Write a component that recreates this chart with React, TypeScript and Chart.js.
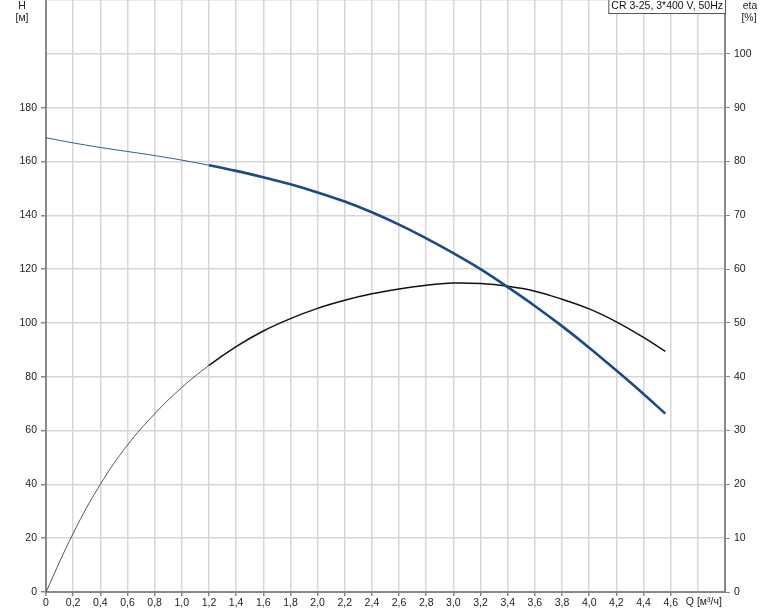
import React, { useEffect, useRef } from "react";
import { Chart, registerables } from "chart.js";

Chart.register(...registerables);

const qValues = [0, 0.2, 0.4, 0.6, 0.8, 1.0, 1.2, 1.4, 1.6, 1.8, 2.0, 2.2, 2.4, 2.6, 2.8, 3.0, 3.2, 3.4, 3.6, 3.8, 4.0, 4.2, 4.4, 4.56];
const headValues = [168.8, 166.9, 165.2, 163.7, 162.2, 160.5, 158.6, 156.5, 154.1, 151.5, 148.5, 145.1, 141.1, 136.5, 131.4, 125.9, 120.0, 113.3, 106.3, 98.8, 90.8, 82.3, 73.6, 66.3];
const etaValues = [0, 10.9, 20.0, 27.3, 33.1, 38.0, 42.1, 45.6, 48.5, 50.8, 52.7, 54.2, 55.4, 56.3, 57.0, 57.4, 57.3, 56.8, 55.9, 54.4, 52.6, 50.2, 47.3, 44.7];
const legendText = "CR 3-25, 3*400 V, 50Hz";
const xTitle = "Q [м³/ч]";
const leftTitle = ["H", "[м]"];
const rightTitle = ["eta", "[%]"];

const FONT = "Liberation Sans, Arial, sans-serif";
const FS = 10.5;

export default function App() {
  const ref = useRef<HTMLCanvasElement>(null);
  useEffect(() => {
    if (!ref.current) return;
    const overlay = {
      id: "overlay",
      afterDraw(chart: any) {
        const c = chart.ctx;
        c.save();
        c.font = `${FS}px ${FONT}`;
        c.fillStyle = "#222";
        c.textAlign = "center";
        c.textBaseline = "top";
        c.fillText(leftTitle[0], 22, 1);
        c.fillText(leftTitle[1], 22, 13);
        c.fillText(rightTitle[0], 750, 1);
        c.fillText(rightTitle[1], 749, 13);
        const xs = chart.scales.x;
        c.textAlign = "left";
        c.fillText(xTitle, xs.getPixelForValue(4.8) - 12, chart.chartArea.bottom + 5);
        const w = c.measureText(legendText).width + 6;
        const right = chart.chartArea.right + 1;
        c.fillStyle = "#fff";
        c.fillRect(right - w, 0, w, 14);
        c.strokeStyle = "#555";
        c.lineWidth = 1;
        c.strokeRect(right - w + 0.5, -0.5, w - 1, 14);
        c.fillStyle = "#111";
        c.fillText(legendText, right - w + 3, 1);
        c.restore();
      },
    };
    const zeroPad = (s: any) => {
      s.paddingTop = 0;
      s.paddingBottom = 0;
      s.paddingLeft = 0;
      s.paddingRight = 0;
    };
    const chart = new Chart(ref.current, {
      type: "line",
      data: {
        datasets: [
          {
            data: qValues.map((q, i) => ({ x: q, y: headValues[i] })),
            borderColor: "#1a4a8a",
            borderWidth: 2.6,
            pointRadius: 0,
            tension: 0.4,
            yAxisID: "y",
            segment: { borderWidth: (ctx: any) => (ctx.p0.parsed.x >= 1.19 ? 2.6 : 0.9) },
          } as any,
          {
            data: qValues.map((q, i) => ({ x: q, y: etaValues[i] })),
            borderColor: "#111",
            borderWidth: 1.4,
            pointRadius: 0,
            tension: 0.4,
            yAxisID: "y2",
            segment: { borderWidth: (ctx: any) => (ctx.p0.parsed.x >= 1.19 ? 1.5 : 0.7) },
          } as any,
        ],
      },
      options: {
        animation: false,
        responsive: false,
        maintainAspectRatio: false,
        layout: { padding: 0 },
        plugins: { legend: { display: false }, tooltip: { enabled: false } },
        scales: {
          x: {
            type: "linear",
            min: 0,
            max: 5,
            afterFit: (s: any) => { s.height = 19; zeroPad(s); },
            afterBuildTicks: (s: any) => {
              const t = [];
              for (let i = 0; i <= 25; i++) t.push({ value: Math.round(i * 2) / 10 });
              s.ticks = t;
            },
            ticks: {
              autoSkip: false,
              maxRotation: 0,
              padding: 1,
              color: "#222",
              font: { family: FONT, size: FS },
              callback: (v: any) => {
                const n = Math.round(Number(v) * 10) / 10;
                if (n >= 4.7) return "";
                if (n === 0) return "0";
                return n.toFixed(1).replace(".", ",");
              },
            },
            grid: {
              color: "#d6d6d6",
              lineWidth: 1.5,
              tickLength: 4,
              tickColor: (ctx: any) => (ctx.tick && ctx.tick.value > 4.7 ? "rgba(0,0,0,0)" : "#888"),
            },
            border: { color: "#888", width: 2 },
          },
          y: {
            position: "left",
            min: 0,
            max: 220,
            afterFit: (s: any) => { s.width = 46; zeroPad(s); },
            ticks: {
              stepSize: 20,
              padding: 4,
              color: "#222",
              font: { family: FONT, size: FS },
              callback: (v: any) => (Number(v) > 180 ? "" : String(v)),
            },
            grid: {
              color: "#d6d6d6",
              lineWidth: 1.5,
              tickLength: 5,
              tickColor: (ctx: any) => (ctx.tick && ctx.tick.value > 180 ? "rgba(0,0,0,0)" : "#888"),
            },
            border: { color: "#888", width: 2 },
          },
          y2: {
            position: "right",
            min: 0,
            max: 110,
            afterFit: (s: any) => { s.width = 49; zeroPad(s); },
            ticks: {
              stepSize: 10,
              padding: 4,
              color: "#222",
              font: { family: FONT, size: FS },
              callback: (v: any) => (Number(v) > 100 ? "" : String(v)),
            },
            grid: {
              display: true,
              drawOnChartArea: false,
              tickLength: 5,
              tickColor: (ctx: any) => (ctx.tick && ctx.tick.value > 100 ? "rgba(0,0,0,0)" : "#888"),
            },
            border: { color: "#888", width: 2 },
          },
        },
      } as any,
      plugins: [overlay],
    });
    return () => chart.destroy();
  }, []);
  return (
    <div style={{ position: "fixed", left: 0, top: 0, width: 774, height: 611, background: "#fff" }}>
      <canvas ref={ref} width={774} height={611} style={{ width: 774, height: 611 }} />
    </div>
  );
}
